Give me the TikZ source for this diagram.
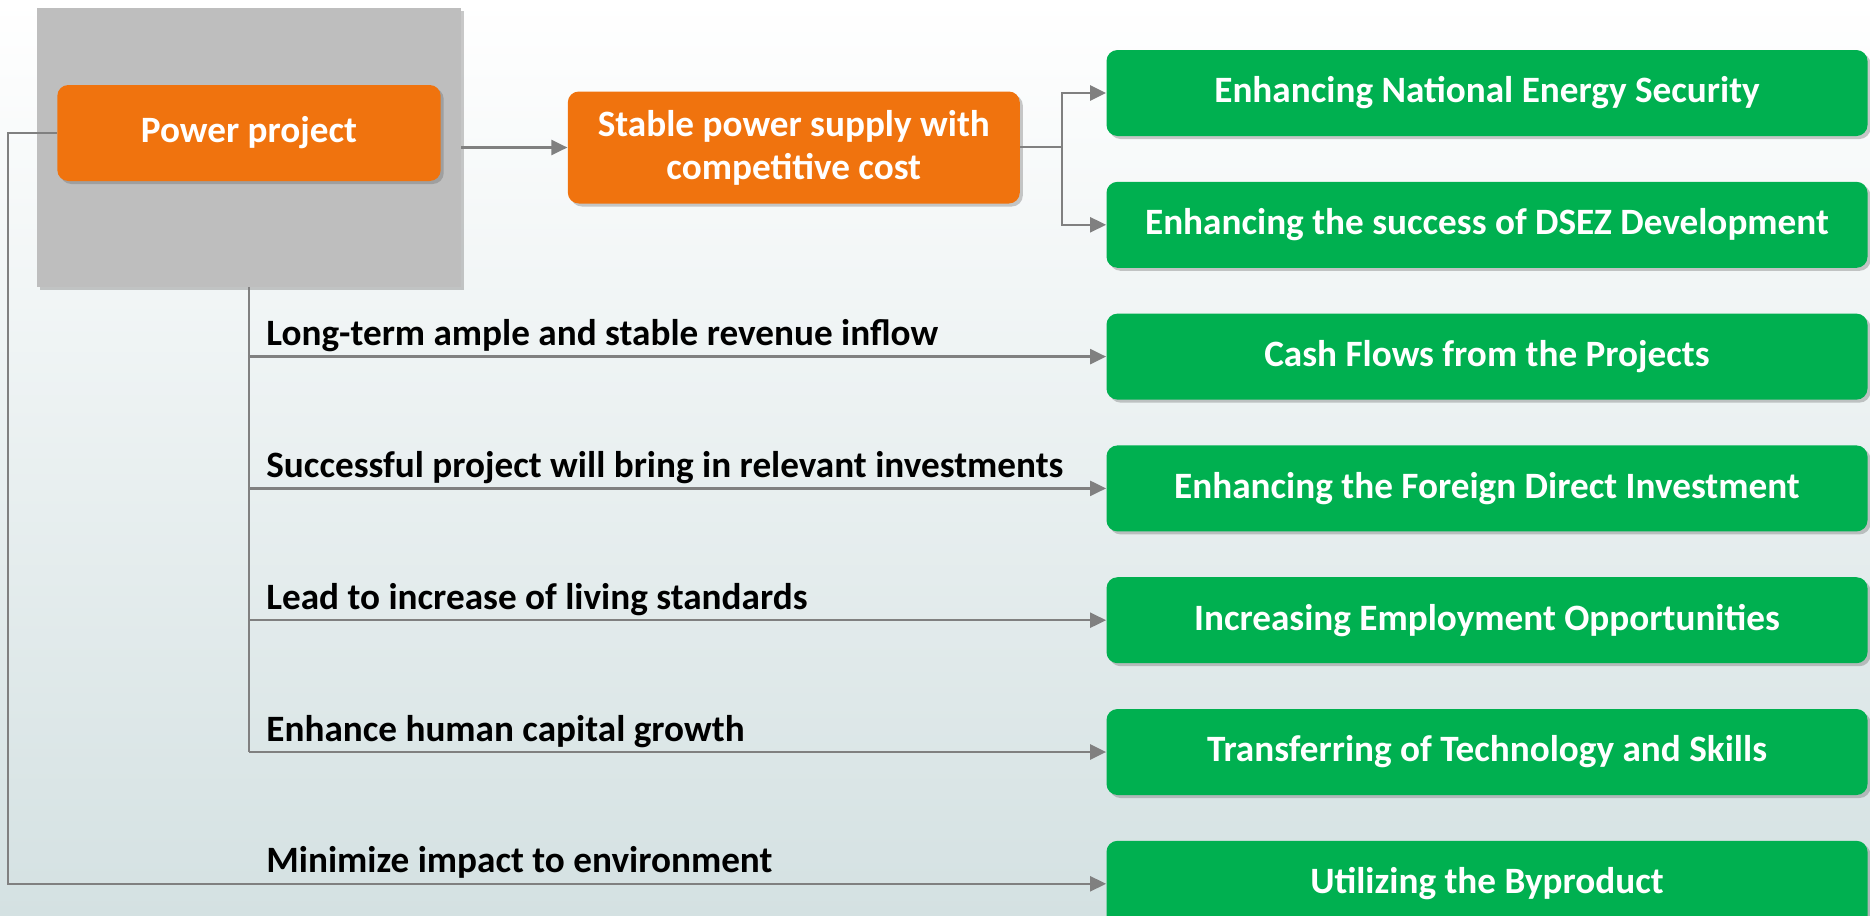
\documentclass[tikz,border=0pt]{standalone}
\usepackage{fontspec}
\setmainfont{Carlito}
\usetikzlibrary{positioning,shadows,arrows.meta}

\definecolor{orng}{RGB}{240,115,14}
\definecolor{grn}{RGB}{0,176,80}
\definecolor{boxgray}{RGB}{190,190,190}
\definecolor{linegray}{RGB}{128,128,128}
\definecolor{bgbottom}{RGB}{212,225,226}

\tikzset{
  softshadow/.style={drop shadow={shadow xshift=1.5pt, shadow yshift=-1.5pt, opacity=0.35, fill=black!60}},
  orangebox/.style={fill=orng, rounded corners=5.5pt, text=white, align=center, softshadow,
    font=\bfseries\fontsize{18.6}{21.5}\selectfont},
  greenbox/.style={fill=grn, rounded corners=5.5pt, text=white, softshadow,
    minimum width=380.5pt, minimum height=43pt, font=\bfseries\fontsize{18.6}{21.5}\selectfont},
  graybg/.style={fill=boxgray, softshadow},
  link/.style={draw=linegray, line width=1.2pt, -{Triangle[length=8pt,width=7.5pt]}},
  trunk/.style={draw=linegray, line width=1.2pt},
  linklabel/.style={anchor=base west, inner sep=0pt, yshift=5.5pt,
    font=\bfseries\fontsize{18.6}{21.5}\selectfont}
}

\begin{document}
\begin{tikzpicture}[x=1pt,y=1pt]
    \shade[top color=white, bottom color=bgbottom] (0,0) rectangle (935,-458);
    \useasboundingbox (0,0) rectangle (935,-458);

    \node [graybg, minimum width=212pt, minimum height=139.5pt](pp_bg) at (124.5,-73.75){};
    \node [orangebox, minimum width=191.7pt, minimum height=48pt](pp) at (124.5,-66.5){Power project};
    \node [orangebox, minimum width=226pt, minimum height=56pt, right=53pt of pp_bg](supply){Stable power supply with\\competitive cost};
    \draw[link] (pp_bg.east |- supply.west) -- (supply.west);

    \node [greenbox](out1) at (743.5,-46.5){Enhancing National Energy Security};
    \node [greenbox, below=22.5pt of out1](out2){Enhancing the success of DSEZ Development};
    \node [greenbox, below=22.5pt of out2](out3){Cash Flows from the Projects};
    \node [greenbox, below=22.5pt of out3](out4){Enhancing the Foreign Direct Investment};
    \node [greenbox, below=22.5pt of out4](out5){Increasing Employment Opportunities};
    \node [greenbox, below=22.5pt of out5](out6){Transferring of Technology and Skills};
    \node [greenbox, below=22.5pt of out6](out7){Utilizing the Byproduct};

    % fork after the supply box
    \coordinate (fork) at (531,-73.5);
    \draw[trunk] (supply.east |- fork) -- (fork);
    \draw[link] (fork) |- (out1.west);
    \draw[link] (fork) |- (out2.west);

    % trunk below the gray box
    \draw[trunk] (pp_bg.south) -- (pp_bg.south |- out6.west);
    \draw[link] (pp_bg.south |- out3.west) -- (out3.west);
    \draw[link] (pp_bg.south |- out4.west) -- (out4.west);
    \draw[link] (pp_bg.south |- out5.west) -- (out5.west);
    \draw[link] (pp_bg.south |- out6.west) -- (out6.west);

    % outer line on the left
    \coordinate (edge_l) at (4,-66.5);
    \draw[link] (pp.west) -- (edge_l) |- (out7.west);

    \coordinate (lab_x) at (133,0);
    \node [linklabel](lab3) at (lab_x |- out3.west){Long-term ample and stable revenue inflow};
    \node [linklabel](lab4) at (lab_x |- out4.west){Successful project will bring in relevant investments};
    \node [linklabel](lab5) at (lab_x |- out5.west){Lead to increase of living standards};
    \node [linklabel](lab6) at (lab_x |- out6.west){Enhance human capital growth};
    \node [linklabel](lab7) at (lab_x |- out7.west){Minimize impact to environment};
\end{tikzpicture}
\end{document}
